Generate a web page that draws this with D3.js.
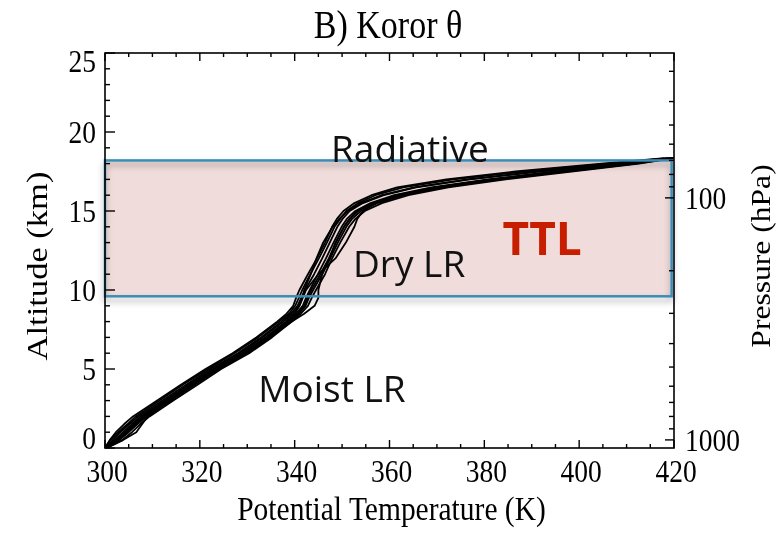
<!DOCTYPE html>
<html>
<head>
<meta charset="utf-8">
<script src="https://cdn.jsdelivr.net/npm/d3@7"></script>
<style>
  body { margin: 0; background: #fff; }
  svg { display: block; }
</style>
</head>
<body>
<svg id="chart" width="779" height="534"></svg>
<script>
// Altitude levels (km) shared by all soundings
const altitudeKm = [0, 0.5, 1, 1.5, 2, 3, 4, 5, 6, 7, 8, 8.5, 9, 9.5, 10, 11, 12, 13, 14, 14.5, 15, 15.5, 16, 16.5, 17, 17.5, 18, 18.35];

// Potential temperature (K) of each Koror sounding at those levels
const sounding1  = [300.0, 301.1, 302.8, 304.7, 306.5, 311.5, 316.4, 321.7, 327.3, 332.3, 336.7, 338.8, 340.1, 340.9, 341.6, 343.3, 345.1, 346.8, 348.4, 349.6, 350.9, 353.4, 357.0, 362.9, 373.5, 388.4, 406.1, 418.6];
const sounding2  = [300.4, 303.6, 305.7, 307.4, 309.4, 314.4, 319.5, 324.5, 330.4, 335.2, 339.4, 341.3, 342.8, 343.6, 344.5, 346.4, 347.9, 349.6, 351.5, 352.8, 354.8, 358.4, 364.0, 372.4, 384.5, 398.4, 412.6, 420.0];
const sounding3  = [300.1, 302.8, 304.7, 306.5, 308.4, 313.6, 318.6, 323.7, 329.6, 334.4, 338.7, 340.7, 342.0, 342.7, 343.5, 345.4, 347.2, 348.7, 350.4, 351.6, 353.4, 356.8, 362.0, 370.0, 382.0, 396.2, 411.2, 419.8];
const sounding4  = [300.0, 301.0, 302.3, 304.0, 305.9, 311.0, 316.0, 321.2, 326.9, 331.9, 336.3, 338.3, 339.7, 340.3, 341.0, 342.8, 344.7, 346.4, 347.9, 348.9, 350.3, 352.6, 356.2, 361.6, 372.0, 386.6, 404.8, 418.0];
const sounding5  = [300.3, 303.8, 306.6, 307.8, 309.0, 313.8, 318.8, 323.9, 329.6, 334.6, 339.4, 342.0, 344.2, 345.0, 345.0, 345.8, 347.4, 348.6, 350.4, 351.6, 353.2, 356.4, 361.6, 369.6, 381.4, 395.6, 410.8, 419.4];
const sounding6  = [300.0, 302.0, 303.8, 305.6, 307.5, 312.6, 317.6, 322.7, 328.4, 333.3, 337.6, 339.6, 341.0, 341.7, 342.4, 345.0, 348.6, 350.8, 352.6, 353.2, 354.4, 357.2, 362.4, 370.4, 382.6, 396.6, 411.4, 419.8];
const sounding7  = [300.1, 302.4, 304.2, 306.0, 307.9, 313.0, 318.0, 323.1, 328.9, 333.8, 338.1, 340.0, 341.0, 341.6, 342.0, 343.4, 344.6, 346.0, 348.0, 349.4, 351.2, 354.0, 358.4, 365.2, 376.4, 391.2, 408.2, 419.2];
const sounding8  = [300.0, 302.5, 304.4, 306.3, 308.3, 313.3, 318.4, 323.6, 329.2, 334.1, 338.4, 340.3, 341.7, 342.4, 343.2, 344.9, 346.6, 348.2, 349.9, 351.0, 352.8, 356.0, 361.0, 368.8, 380.8, 395.0, 410.4, 419.6];
const sounding9  = [300.0, 301.6, 303.2, 305.1, 307.0, 312.1, 317.1, 322.2, 328.0, 332.9, 337.2, 339.2, 340.6, 341.4, 342.2, 344.1, 345.8, 347.4, 349.0, 350.1, 351.6, 354.4, 358.8, 365.6, 377.0, 391.6, 408.4, 419.0];
const sounding10 = [300.2, 303.0, 305.0, 306.8, 308.8, 313.9, 318.9, 324.0, 329.9, 334.8, 339.0, 340.9, 342.3, 343.0, 343.9, 345.8, 347.5, 349.1, 350.9, 352.1, 354.0, 357.4, 363.0, 371.4, 383.2, 397.2, 412.0, 420.0];
const soundings = [sounding1, sounding2, sounding3, sounding4, sounding5, sounding6, sounding7, sounding8, sounding9, sounding10];

// Axes
const thetaDomain = [300, 420];
const altitudeDomain = [0, 25];
const thetaTicks = [300, 320, 340, 360, 380, 400, 420];
const thetaMinorTicks = d3.range(300, 421, 5);
const altitudeTicks = [0, 5, 10, 15, 20, 25];
const altitudeMinorTicks = d3.range(0, 26, 1);
const pressureDomain = [1080, 25.2];   // hPa at 0 km and 25 km
const pressureTicks = [100, 1000];
const pressureMinorTicks = [30, 40, 50, 60, 70, 80, 90, 200, 300, 400, 500, 600, 700, 800, 900];

// Tropical tropopause layer band (km) and its theta extent (K)
const ttlAltitude = [9.6, 18.2];
const ttlTheta = [300, 419.5];

// Regime labels
const regimeLabels = ["Radiative", "Dry LR", "Moist LR"];
const layerLabel = "TTL";

const svg = d3.select("#chart");
const plotLeft = 105, plotRight = 674, plotTop = 53, plotBottom = 448;
const x = d3.scaleLinear().domain(thetaDomain).range([plotLeft, plotRight]);
const y = d3.scaleLinear().domain(altitudeDomain).range([plotBottom, plotTop]);
const p = d3.scaleLog().domain(pressureDomain).range([plotBottom, plotTop]);

const serif = "'Liberation Serif', 'Times New Roman', serif";
const sans = "'Open Sans', 'Noto Sans', sans-serif";
const stretch = 1.17;

const defs = svg.append("defs");
defs.append("clipPath").attr("id", "plotClip")
  .append("rect").attr("x", plotLeft).attr("y", plotTop)
  .attr("width", plotRight - plotLeft).attr("height", plotBottom - plotTop);
const shadow = defs.append("filter").attr("id", "boxShadow")
  .attr("x", "-5%").attr("y", "-20%").attr("width", "110%").attr("height", "150%");
shadow.append("feDropShadow").attr("dx", 0).attr("dy", 4)
  .attr("stdDeviation", 3).attr("flood-color", "#000").attr("flood-opacity", 0.35);

// Soundings
const line = d3.line()
  .x(d => x(d[0]))
  .y(d => y(d[1]));
svg.append("g").attr("clip-path", "url(#plotClip)")
  .selectAll("path").data(soundings).join("path")
  .attr("d", s => line(s.map((t, i) => [t, altitudeKm[i]])))
  .attr("fill", "none")
  .attr("stroke", "#000")
  .attr("stroke-width", 1.8)
  .attr("stroke-linejoin", "round");

// TTL band: tinted fill multiplied over the profiles, outline with a soft shadow
svg.append("rect")
  .attr("x", x(ttlTheta[0])).attr("y", y(ttlAltitude[1]))
  .attr("width", x(ttlTheta[1]) - x(ttlTheta[0]))
  .attr("height", y(ttlAltitude[0]) - y(ttlAltitude[1]))
  .attr("fill", "rgb(240,220,219)")
  .style("mix-blend-mode", "multiply");
svg.append("rect")
  .attr("x", x(ttlTheta[0])).attr("y", y(ttlAltitude[1]))
  .attr("width", x(ttlTheta[1]) - x(ttlTheta[0]))
  .attr("height", y(ttlAltitude[0]) - y(ttlAltitude[1]))
  .attr("fill", "none")
  .attr("stroke", "#3a8db5")
  .attr("stroke-width", 2.5)
  .attr("filter", "url(#boxShadow)");

// Frame
const axisColor = "#000";
svg.append("rect")
  .attr("x", plotLeft).attr("y", plotTop)
  .attr("width", plotRight - plotLeft).attr("height", plotBottom - plotTop)
  .attr("fill", "none").attr("stroke", axisColor).attr("stroke-width", 1.6);

const ticks = svg.append("g").attr("stroke", axisColor).attr("stroke-width", 1.4);
// left altitude ticks (inward)
ticks.append("g").selectAll("line").data(altitudeMinorTicks).join("line")
  .attr("x1", plotLeft).attr("x2", d => plotLeft + (d % 5 === 0 ? 10 : 5))
  .attr("y1", d => y(d)).attr("y2", d => y(d));
// bottom and top theta ticks (inward)
ticks.append("g").selectAll("line").data(thetaMinorTicks).join("line")
  .attr("x1", d => x(d)).attr("x2", d => x(d))
  .attr("y1", plotBottom).attr("y2", d => plotBottom - (d % 20 === 0 ? 8 : 4));
ticks.append("g").selectAll("line").data(thetaMinorTicks).join("line")
  .attr("x1", d => x(d)).attr("x2", d => x(d))
  .attr("y1", plotTop).attr("y2", d => plotTop + (d % 20 === 0 ? 8 : 4));
// right pressure ticks (inward)
ticks.append("g").selectAll("line").data(pressureMinorTicks).join("line")
  .attr("x1", plotRight).attr("x2", plotRight - 5)
  .attr("y1", d => p(d)).attr("y2", d => p(d));
ticks.append("g").selectAll("line").data(pressureTicks).join("line")
  .attr("x1", plotRight).attr("x2", plotRight - 9)
  .attr("y1", d => p(d)).attr("y2", d => p(d));

function stretchedText(g, px, py, str, opts) {
  return g.append("text")
    .attr("transform", `translate(${px},${py}) scale(1,${stretch})${opts.rotate ? " rotate(-90)" : ""}`)
    .attr("text-anchor", opts.anchor || "middle")
    .attr("dy", opts.dy || 0)
    .attr("font-family", serif)
    .attr("font-size", opts.size)
    .attr("fill", "#000")
    .text(str);
}

const labels = svg.append("g");
altitudeTicks.forEach(v => {
  const cy = Math.min(Math.max(y(v), plotTop + 8), plotBottom - 10);
  stretchedText(labels, plotLeft - 9, cy, String(v), { anchor: "end", size: 27.5, dy: "0.35em" });
});
thetaTicks.forEach(v => {
  stretchedText(labels, x(v) + 2, 482, String(v), { anchor: "middle", size: 27.5 });
});
pressureTicks.forEach(v => {
  stretchedText(labels, plotRight + 11, p(v), String(v), { anchor: "start", size: 27.5, dy: "0.35em" });
});

// Axis titles and chart title
stretchedText(labels, (plotLeft + plotRight) / 2 + 2, 520, "Potential Temperature (K)", { size: 29.5 });
stretchedText(labels, 47, 266, "Altitude (km)", { size: 29.5, rotate: true });
stretchedText(labels, 770, 256, "Pressure (hPa)", { size: 27, rotate: true });
stretchedText(labels, 388, 38, "B) Koror \u03b8", { size: 34 });

// Regime annotations
const notes = svg.append("g").attr("font-family", sans).attr("fill", "#111");
notes.append("text").attr("x", x(364.3)).attr("y", y(18.1))
  .attr("text-anchor", "middle").attr("font-size", 37).text(regimeLabels[0]);
notes.append("text").attr("x", x(352.3)).attr("y", y(10.82))
  .attr("text-anchor", "start").attr("font-size", 37).text(regimeLabels[1]);
notes.append("text").attr("x", x(332.3)).attr("y", y(2.91))
  .attr("text-anchor", "start").attr("font-size", 37).text(regimeLabels[2]);
notes.append("text").attr("x", x(392.2)).attr("y", y(12.2))
  .attr("text-anchor", "middle").attr("font-size", 46).attr("font-weight", 700)
  .attr("fill", "#c81e00").text(layerLabel);
</script>
</body>
</html>
